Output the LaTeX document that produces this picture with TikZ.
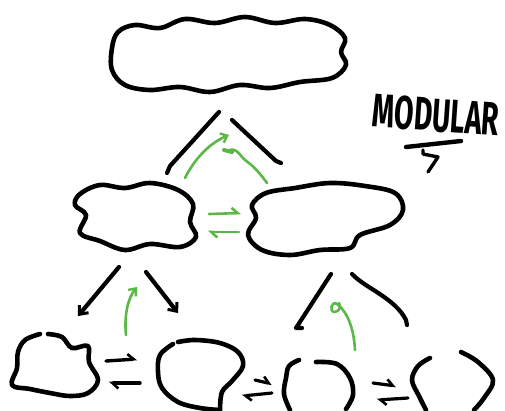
\documentclass[tikz,border=0pt]{standalone}
\usepackage{fontspec}
\newfontfamily\handfont{Fira Sans}
\usetikzlibrary{arrows.meta}
\definecolor{sketchgreen}{RGB}{92,184,70}
\tikzset{
  ink/.style={line width=4.2pt, line cap=round, line join=round, black},
  cloud/.style={ink, line width=4.6pt},
  gink/.style={line width=2.6pt, line cap=round, line join=round, sketchgreen},
  barb/.style={-{Straight Barb[length=7pt,width=12pt,line width=3pt]}},
  gbarb/.style={-{Straight Barb[length=6pt,width=10pt,line width=2.4pt]}},
  hl/.style={-{Straight Barb[harpoon,left,length=6pt,width=11pt,line width=2.6pt]}},
  hr/.style={-{Straight Barb[harpoon,right,length=6pt,width=11pt,line width=2.6pt]}},
}
\begin{document}
\begin{tikzpicture}[x=1pt,y=-1pt]
\useasboundingbox (0,0) rectangle (505,410);
% ---- clouds ----
\draw[cloud] plot[smooth cycle, tension=0.6] coordinates {
 (112,48) (118,32) (135,25) (160,28) (185,19) (215,23) (245,17) (275,23) (305,19)
 (330,25) (345,38) (341,52) (346,65) (332,78) (300,82) (270,88) (240,85)
 (210,92) (180,87) (150,90) (125,85) (112,70)};
\draw[cloud] plot[smooth cycle, tension=0.6] coordinates {
 (80,194) (100,185) (125,188) (150,183) (178,190) (193,204) (190,222) (196,237)
 (180,247) (150,244) (125,250) (100,241) (80,233) (86,215) (75,205)};
\draw[cloud] plot[smooth cycle, tension=0.6] coordinates {
 (252,205) (266,193) (295,188) (330,183) (365,186) (395,193) (403,210) (390,225)
 (360,235) (350,248) (320,250) (290,255) (262,250) (248,235) (256,218)};
% bottom row
\draw[cloud] plot[smooth, tension=0.6] coordinates {
 (40,334) (25,340) (18,352) (17,368) (12,385) (30,389) (50,393) (70,396)
 (88,393) (98,380) (89,362) (88,346) (72,348) (62,337) (48,334)};
\draw[cloud] plot[smooth, tension=0.6] coordinates {
 (173,344) (160,355) (158,372) (162,388) (178,402) (200,408) (220,410)};
\draw[cloud] plot[smooth, tension=0.6] coordinates {
 (220,410) (222,392) (232,381) (243,366) (238,352) (220,343) (195,340) (178,342)};
\draw[cloud] plot[smooth, tension=0.6] coordinates {
 (299,360) (289,366) (286,378) (284,394) (290,410)};
\draw[cloud] plot[smooth, tension=0.6] coordinates {
 (316,362) (337,364) (350,378) (353,395) (346,409)};
\draw[cloud] plot[smooth, tension=0.6] coordinates {
 (430,358) (418,366) (412,380) (419,396) (426,410)};
\draw[cloud] plot[smooth, tension=0.6] coordinates {
 (461,352) (478,362) (493,380) (484,398) (474,410)};
% ---- connector end points ----
\coordinate (tl1) at (219,112); \coordinate (tl2) at (170,166);
\coordinate (tr1) at (232,120); \coordinate (tr2) at (276,161);
\coordinate (g1a) at (185,178); \coordinate (g1b) at (229,135);
\coordinate (g2a) at (228,151); \coordinate (g2b) at (267,183);
\coordinate (mg1a) at (209,214); \coordinate (mg1b) at (241,213);
\coordinate (mg2a) at (239,232); \coordinate (mg2b) at (208,232);
\coordinate (la1) at (119,267); \coordinate (la2) at (78,316);
\coordinate (lb1) at (146,272); \coordinate (lb2) at (178,313);
\coordinate (lg1) at (126,335); \coordinate (lg2) at (137,287);
\coordinate (ra1) at (331,274); \coordinate (ra2) at (296,328);
\coordinate (rb1) at (352,274); \coordinate (rb2) at (406,320);
\coordinate (rg1) at (355,350); \coordinate (rg2) at (337,304);
\coordinate (b1a) at (106,361); \coordinate (b1b) at (137,359);
\coordinate (b1c) at (140,383); \coordinate (b1d) at (109,383);
\coordinate (b2a) at (255,380); \coordinate (b2b) at (272,384);
\coordinate (b2c) at (272,393); \coordinate (b2d) at (242,396);
\coordinate (b3a) at (373,383); \coordinate (b3b) at (396,386);
\coordinate (b3c) at (408,398); \coordinate (b3d) at (377,400);
% ---- top connectors ----
\draw[ink] (tl1) -- (tl2) -- ++(-3,7);
\draw[ink] (tr1) -- (tr2) -- ++(5,2);
\draw[gink, gbarb] (g1a) .. controls (195,158) and (210,143) .. (g1b);
\draw[gink] (g2a) .. controls (236,146) and (240,156) .. (245,160) .. controls (255,167) and (262,176) .. (g2b);
\draw[gink, line width=4pt] (224,150) -- (232,152);
% ---- middle pair ----
\draw[gink, hl] (mg1a) -- (mg1b);
\draw[gink, hl] (mg2a) -- (mg2b);
% ---- lower connectors ----
\draw[ink, barb] (la1) -- (la2);
\draw[ink, barb] (lb1) -- (lb2);
\draw[gink, gbarb] (lg1) .. controls (124,315) and (128,298) .. (lg2);
\draw[ink] (ra1) -- (ra2) -- ++(6,0);
\draw[ink] (rb1) .. controls (365,288) and (395,298) .. (rb2) -- ++(1,5);
\draw[gink] (rg1) .. controls (354,330) and (348,312) .. (rg2)
   .. controls (332,300) and (328,312) .. (335,312) .. controls (340,311) and (341,306) .. (339,303);
% ---- bottom pairs ----
\draw[ink, line width=3.4pt, hl] (b1a) -- (b1b);
\draw[ink, line width=3.4pt, hl] (b1c) -- (b1d);
\draw[ink, line width=3.2pt, hl] (b2a) -- (b2b);
\draw[ink, line width=3.2pt, hl] (b2c) -- (b2d);
\draw[ink, line width=3.2pt, hl] (b3a) -- (b3b);
\draw[ink, line width=3.2pt, hl] (b3c) -- (b3d);
% ---- label ----
\node[rotate=-4, xscale=0.6, inner sep=0pt, font=\handfont\bfseries\fontsize{47}{47}\selectfont] (lbl) at (436,115) {MODULAR};
\coordinate (u1) at (406,147); \coordinate (u2) at (461,141);
\draw[ink, line width=4.4pt] (u1) -- (u2);
\draw[ink, line width=3.4pt] (423,150) -- (423,154) -- (438,157) -- (428,172);
\end{tikzpicture}
\end{document}
